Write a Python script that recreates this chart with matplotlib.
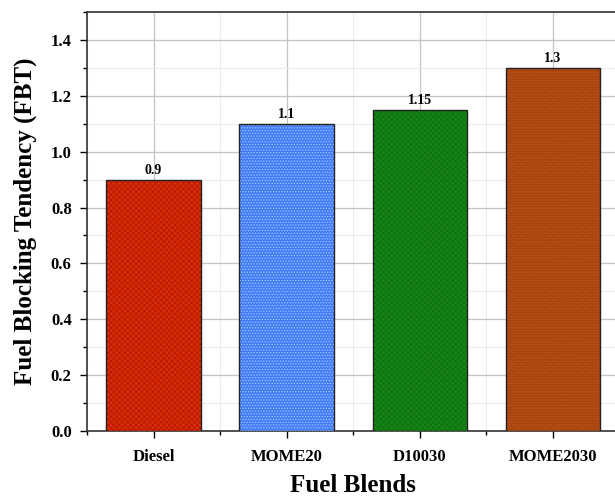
import matplotlib.pyplot as plt
from matplotlib.ticker import MultipleLocator
import numpy as np

plt.rcParams['font.family'] = ['Liberation Serif', 'DejaVu Serif']
plt.rcParams['font.weight'] = 'bold'
plt.rcParams['hatch.linewidth'] = 0.6

blends = ["Diesel", "MOME20", "D10030", "MOME2030"]
fbt = [0.9, 1.1, 1.15, 1.3]
bar_labels = ["0.9", "1.1", "1.15", "1.3"]

colors = ["#da2c08", "#3f7cf6", "#168516", "#a8440f"]
hatch_colors = ["#b31800", "#a9c6ff", "#0f6e0f", "#c45a20"]
hatches = ["xxxxxx", "......", "xxxxxx", "......"]

fig = plt.figure(figsize=(6.15, 4.97), dpi=100)
ax = fig.add_axes([0.1415, 0.1328, 0.866, 0.8431])

x = np.arange(len(blends))
for i in range(len(blends)):
    ax.bar(x[i], fbt[i], width=0.71, color=colors[i], edgecolor=hatch_colors[i],
           hatch=hatches[i], linewidth=0, zorder=3)
    ax.bar(x[i], fbt[i], width=0.71, fill=False, edgecolor="#222222",
           linewidth=1.0, zorder=4)
    ax.text(x[i], fbt[i] + 0.01, bar_labels[i], ha="center", va="bottom",
            fontsize=10, fontweight="bold", zorder=5)

ax.set_xlim(-0.5, 3.5)
ax.set_ylim(0, 1.5)
ax.set_xticks(x)
ax.set_xticklabels(blends)
ax.xaxis.set_minor_locator(MultipleLocator(1, offset=0.5))
ax.yaxis.set_major_locator(MultipleLocator(0.2))
ax.yaxis.set_minor_locator(MultipleLocator(0.1))

ax.grid(which="major", color="#c4c4c4", linewidth=0.9, zorder=0)
ax.grid(which="minor", color="#ececec", linewidth=0.8, zorder=0)
ax.set_axisbelow(True)

ax.tick_params(axis="both", which="major", direction="out", length=5,
               width=1.0, labelsize=12)
ax.tick_params(axis="both", which="minor", direction="out", length=3, width=1.0)
ax.tick_params(axis="x", pad=8)
ax.tick_params(axis="y", pad=6)
for lab in ax.get_xticklabels() + ax.get_yticklabels():
    lab.set_fontweight("bold")

for s in ax.spines.values():
    s.set_linewidth(1.2)
    s.set_color("#333333")

ax.set_xlabel("Fuel Blends", fontsize=18, fontweight="bold")
ax.set_ylabel("Fuel Blocking Tendency (FBT)", fontsize=18, fontweight="bold")
ax.xaxis.set_label_coords(0.5, -0.102)
ax.yaxis.set_label_coords(-0.094, 0.5)

fig.savefig("out.png", dpi=100)
